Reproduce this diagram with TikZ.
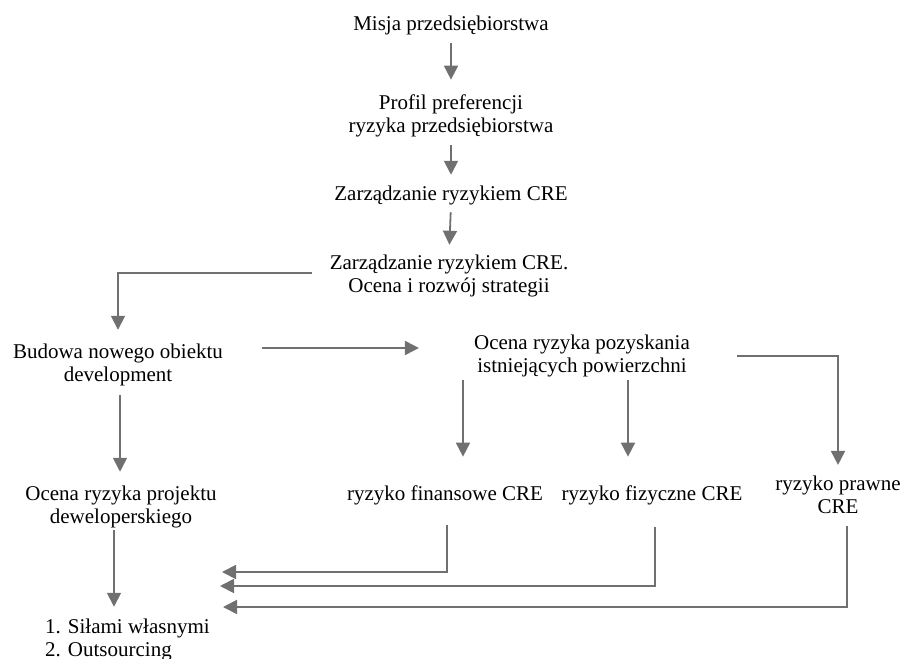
\documentclass[tikz,border=0pt]{standalone}
\usepackage{fontspec}
\setmainfont{Liberation Serif}
\usetikzlibrary{arrows.meta}
\definecolor{arrowgray}{RGB}{112,112,112}
\begin{document}
\begin{tikzpicture}[x=1pt, y=-1pt, >={Triangle[length=14pt,width=14pt]},
		txt/.style={inner sep=0pt, align=center, font=\fontsize{21pt}{23pt}\selectfont},
		arr/.style={->, color=arrowgray, line width=1.8pt}]
			\useasboundingbox (0,0) rectangle (903,659);
			% main column
			\node[txt] (misja) at (451,25) {Misja przedsiębiorstwa};
			\node[txt] (profil) at (451,116) {Profil preferencji\\ryzyka przedsiębiorstwa};
			\node[txt] (zrc) at (451,195) {Zarządzanie ryzykiem CRE};
			\node[txt] (zrcs) at (449,276) {Zarządzanie ryzykiem CRE.\\Ocena i rozwój strategii};
			\node[txt] (budowa) at (118,365) {Budowa nowego obiektu\\development};
			\node[txt] (ocenap) at (582,356) {Ocena ryzyka pozyskania\\istniejących powierzchni};
			\node[txt] (projekt) at (121,507) {Ocena ryzyka projektu\\deweloperskiego};
			\node[txt] (fin) at (445,495) {ryzyko finansowe CRE};
			\node[txt] (fiz) at (652,495) {ryzyko fizyczne CRE};
			\node[txt] (prawne) at (838,495) {ryzyko prawne\\CRE};
			\node[txt, align=left, anchor=west] (wynik) at (45,640) {1. Siłami własnymi\\2. Outsourcing};
			\coordinate (ret1) at (222,572);
			\coordinate (ret2) at (220,586);
			\coordinate (ret3) at (223,607);

			\draw[arr, shorten <=8.5pt, shorten >=15pt] (misja.south) -- (profil.north);
			\draw[arr, shorten <=8pt, shorten >=10.5pt] (profil.south) -- (zrc.north);
			\draw[arr, shorten <=7.5pt, shorten >=10pt] (zrc.south) -- (zrcs.north);
			\draw[arr, shorten <=18pt, shorten >=14pt] ([yshift=3pt]zrcs.west) -| (budowa.north);
			\draw[arr, shorten <=38.5pt, shorten >=55pt] ([yshift=17pt]budowa.east) -- ([yshift=8pt]ocenap.west);
			\draw[arr, shorten <=9pt, shorten >=14pt] ([xshift=2pt]budowa.south) -- ([xshift=2pt]budowa.south |- projekt.north);
			\draw[arr, shorten <=47pt, shorten >=11pt] (ocenap.east) -| (prawne.north);
			\draw[arr, shorten <=3pt, shorten >=28.5pt] ([xshift=-119pt]ocenap.south) -- ([xshift=18pt]fin.north);
			\draw[arr, shorten <=3pt, shorten >=28.5pt] ([xshift=46pt]ocenap.south) -- ([xshift=-24pt]fiz.north);
			\draw[arr, shorten <=2pt, shorten >=12pt] ([xshift=-7pt]projekt.south) -- ([xshift=-7pt]projekt.south |- wynik.north);
			\foreach \n/\dx/\s/\r in {fin/2/20.5/ret1, fiz/3/22.5/ret2, prawne/9/11.5/ret3} {
					\draw[arr, shorten <=\s pt] ([xshift=\dx pt]\n.south) |- (\r);
				}
		\end{tikzpicture}
\end{document}
